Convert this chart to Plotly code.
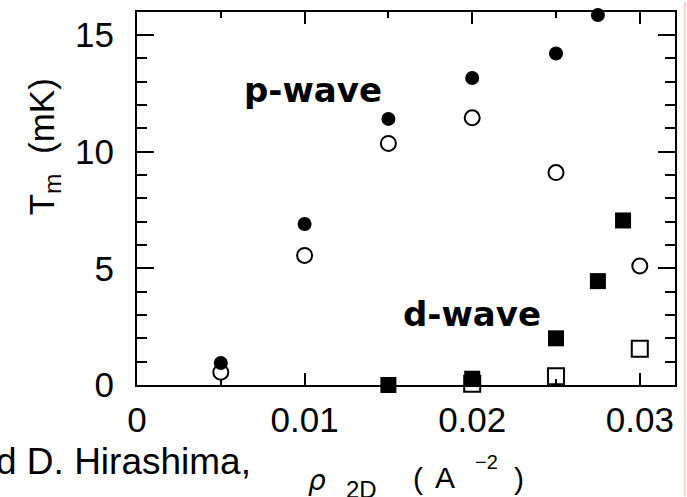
import plotly.graph_objects as go

# data
p_filled_x = [0.005, 0.010, 0.015, 0.020, 0.025, 0.0275]
p_filled_y = [0.94, 6.9, 11.4, 13.15, 14.2, 15.85]
p_open_x = [0.005, 0.010, 0.015, 0.020, 0.025, 0.030]
p_open_y = [0.55, 5.55, 10.35, 11.45, 9.1, 5.1]
d_filled_x = [0.015, 0.020, 0.025, 0.0275, 0.029]
d_filled_y = [0.0, 0.27, 2.0, 4.45, 7.05]
d_open_x = [0.020, 0.025, 0.030]
d_open_y = [0.05, 0.38, 1.55]

x_ticks = [0, 0.01, 0.02, 0.03]
x_ticktext = ["0", "0.01", "0.02", "0.03"]
y_ticks = [0, 5, 10, 15]
y_ticktext = ["0", "5", "10", "15"]

W, H = 687, 497
L, R, T, B = 137, 12, 10, 112
PW, PH = W - L - R, H - T - B

def px(xp):
    return (xp - L) / PW

def py(yp):
    return (H - B - yp) / PH

FONT = "Liberation Sans, Arial, sans-serif"

fig = go.Figure()
fig.add_trace(go.Scatter(x=p_open_x, y=p_open_y, mode="markers", cliponaxis=False,
                         marker=dict(symbol="circle", size=15, color="white",
                                     line=dict(color="black", width=2))))
fig.add_trace(go.Scatter(x=d_open_x, y=d_open_y, mode="markers", cliponaxis=False,
                         marker=dict(symbol="square", size=16, color="white",
                                     line=dict(color="black", width=2))))
fig.add_trace(go.Scatter(x=p_filled_x, y=p_filled_y, mode="markers", cliponaxis=False,
                         marker=dict(symbol="circle", size=14, color="black",
                                     line=dict(width=0))))
fig.add_trace(go.Scatter(x=d_filled_x, y=d_filled_y, mode="markers", cliponaxis=False,
                         marker=dict(symbol="square", size=16, color="black",
                                     line=dict(width=0))))

axis_common = dict(showline=True, linecolor="black", linewidth=2, mirror="ticks",
                   ticks="inside", tickcolor="black", tickwidth=2, showgrid=False,
                   zeroline=False, tickfont=dict(family=FONT, size=35, color="black"))

fig.update_xaxes(range=[0, 0.0321], tickvals=x_ticks, ticktext=x_ticktext, ticklen=12,
                 ticklabelstandoff=3,
                 minor=dict(dtick=0.005, tick0=0, ticks="inside", ticklen=6, tickwidth=2,
                            tickcolor="black", showgrid=False),
                 **axis_common)
fig.update_yaxes(range=[0, 15.98], tickvals=y_ticks, ticktext=y_ticktext, ticklen=17,
                 ticklabelstandoff=14,
                 minor=dict(dtick=1, tick0=0, ticks="inside", ticklen=10, tickwidth=2,
                            tickcolor="black", showgrid=False),
                 **axis_common)

ann = []
ann.append(dict(text="p-wave", x=px(242), y=py(111), xref="paper", yref="paper",
                xanchor="left", yanchor="bottom", showarrow=False,
                font=dict(family="DejaVu Sans", size=34, color="black", weight="bold")))
ann.append(dict(text="d-wave", x=px(401), y=py(336), xref="paper", yref="paper",
                xanchor="left", yanchor="bottom", showarrow=False,
                font=dict(family="DejaVu Sans", size=34, color="black", weight="bold")))
ann.append(dict(text="T<sub>m</sub>  (mK)", x=px(44), y=py(146), xref="paper", yref="paper",
                xanchor="center", yanchor="middle", textangle=-90, showarrow=False,
                font=dict(family=FONT, size=35, color="black")))
ann.append(dict(text="d D. Hirashima,", x=px(253), y=py(462), xref="paper", yref="paper",
                xanchor="right", yanchor="middle", showarrow=False,
                font=dict(family=FONT, size=37, color="black")))
ann.append(dict(text="ρ", x=px(317), y=py(481), xref="paper", yref="paper",
                xanchor="center", yanchor="middle", showarrow=False,
                font=dict(family="DejaVu Sans", size=28, color="black", style="italic")))
ann.append(dict(text="2D", x=px(361), y=py(490), xref="paper", yref="paper",
                xanchor="center", yanchor="middle", showarrow=False,
                font=dict(family=FONT, size=24, color="black")))
ann.append(dict(text="(", x=px(418), y=py(479), xref="paper", yref="paper",
                xanchor="center", yanchor="middle", showarrow=False,
                font=dict(family=FONT, size=30, color="black")))
ann.append(dict(text="A", x=px(445), y=py(478), xref="paper", yref="paper",
                xanchor="center", yanchor="middle", showarrow=False,
                font=dict(family=FONT, size=30, color="black")))
ann.append(dict(text="−2", x=px(486), y=py(462), xref="paper", yref="paper",
                xanchor="center", yanchor="middle", showarrow=False,
                font=dict(family=FONT, size=20, color="black")))
ann.append(dict(text=")", x=px(519), y=py(479), xref="paper", yref="paper",
                xanchor="center", yanchor="middle", showarrow=False,
                font=dict(family=FONT, size=30, color="black")))

fig.update_layout(width=W, height=H, autosize=False,
                  margin=dict(l=L, r=R, t=T, b=B, pad=0),
                  plot_bgcolor="white", paper_bgcolor="white", showlegend=False,
                  annotations=ann,
                  shapes=[dict(type="line", xref="paper", yref="paper",
                               x0=px(685), x1=px(685), y0=py(H), y1=py(0),
                               line=dict(color="#f4c4c4", width=1.5))])

fig.write_html("out.html")
